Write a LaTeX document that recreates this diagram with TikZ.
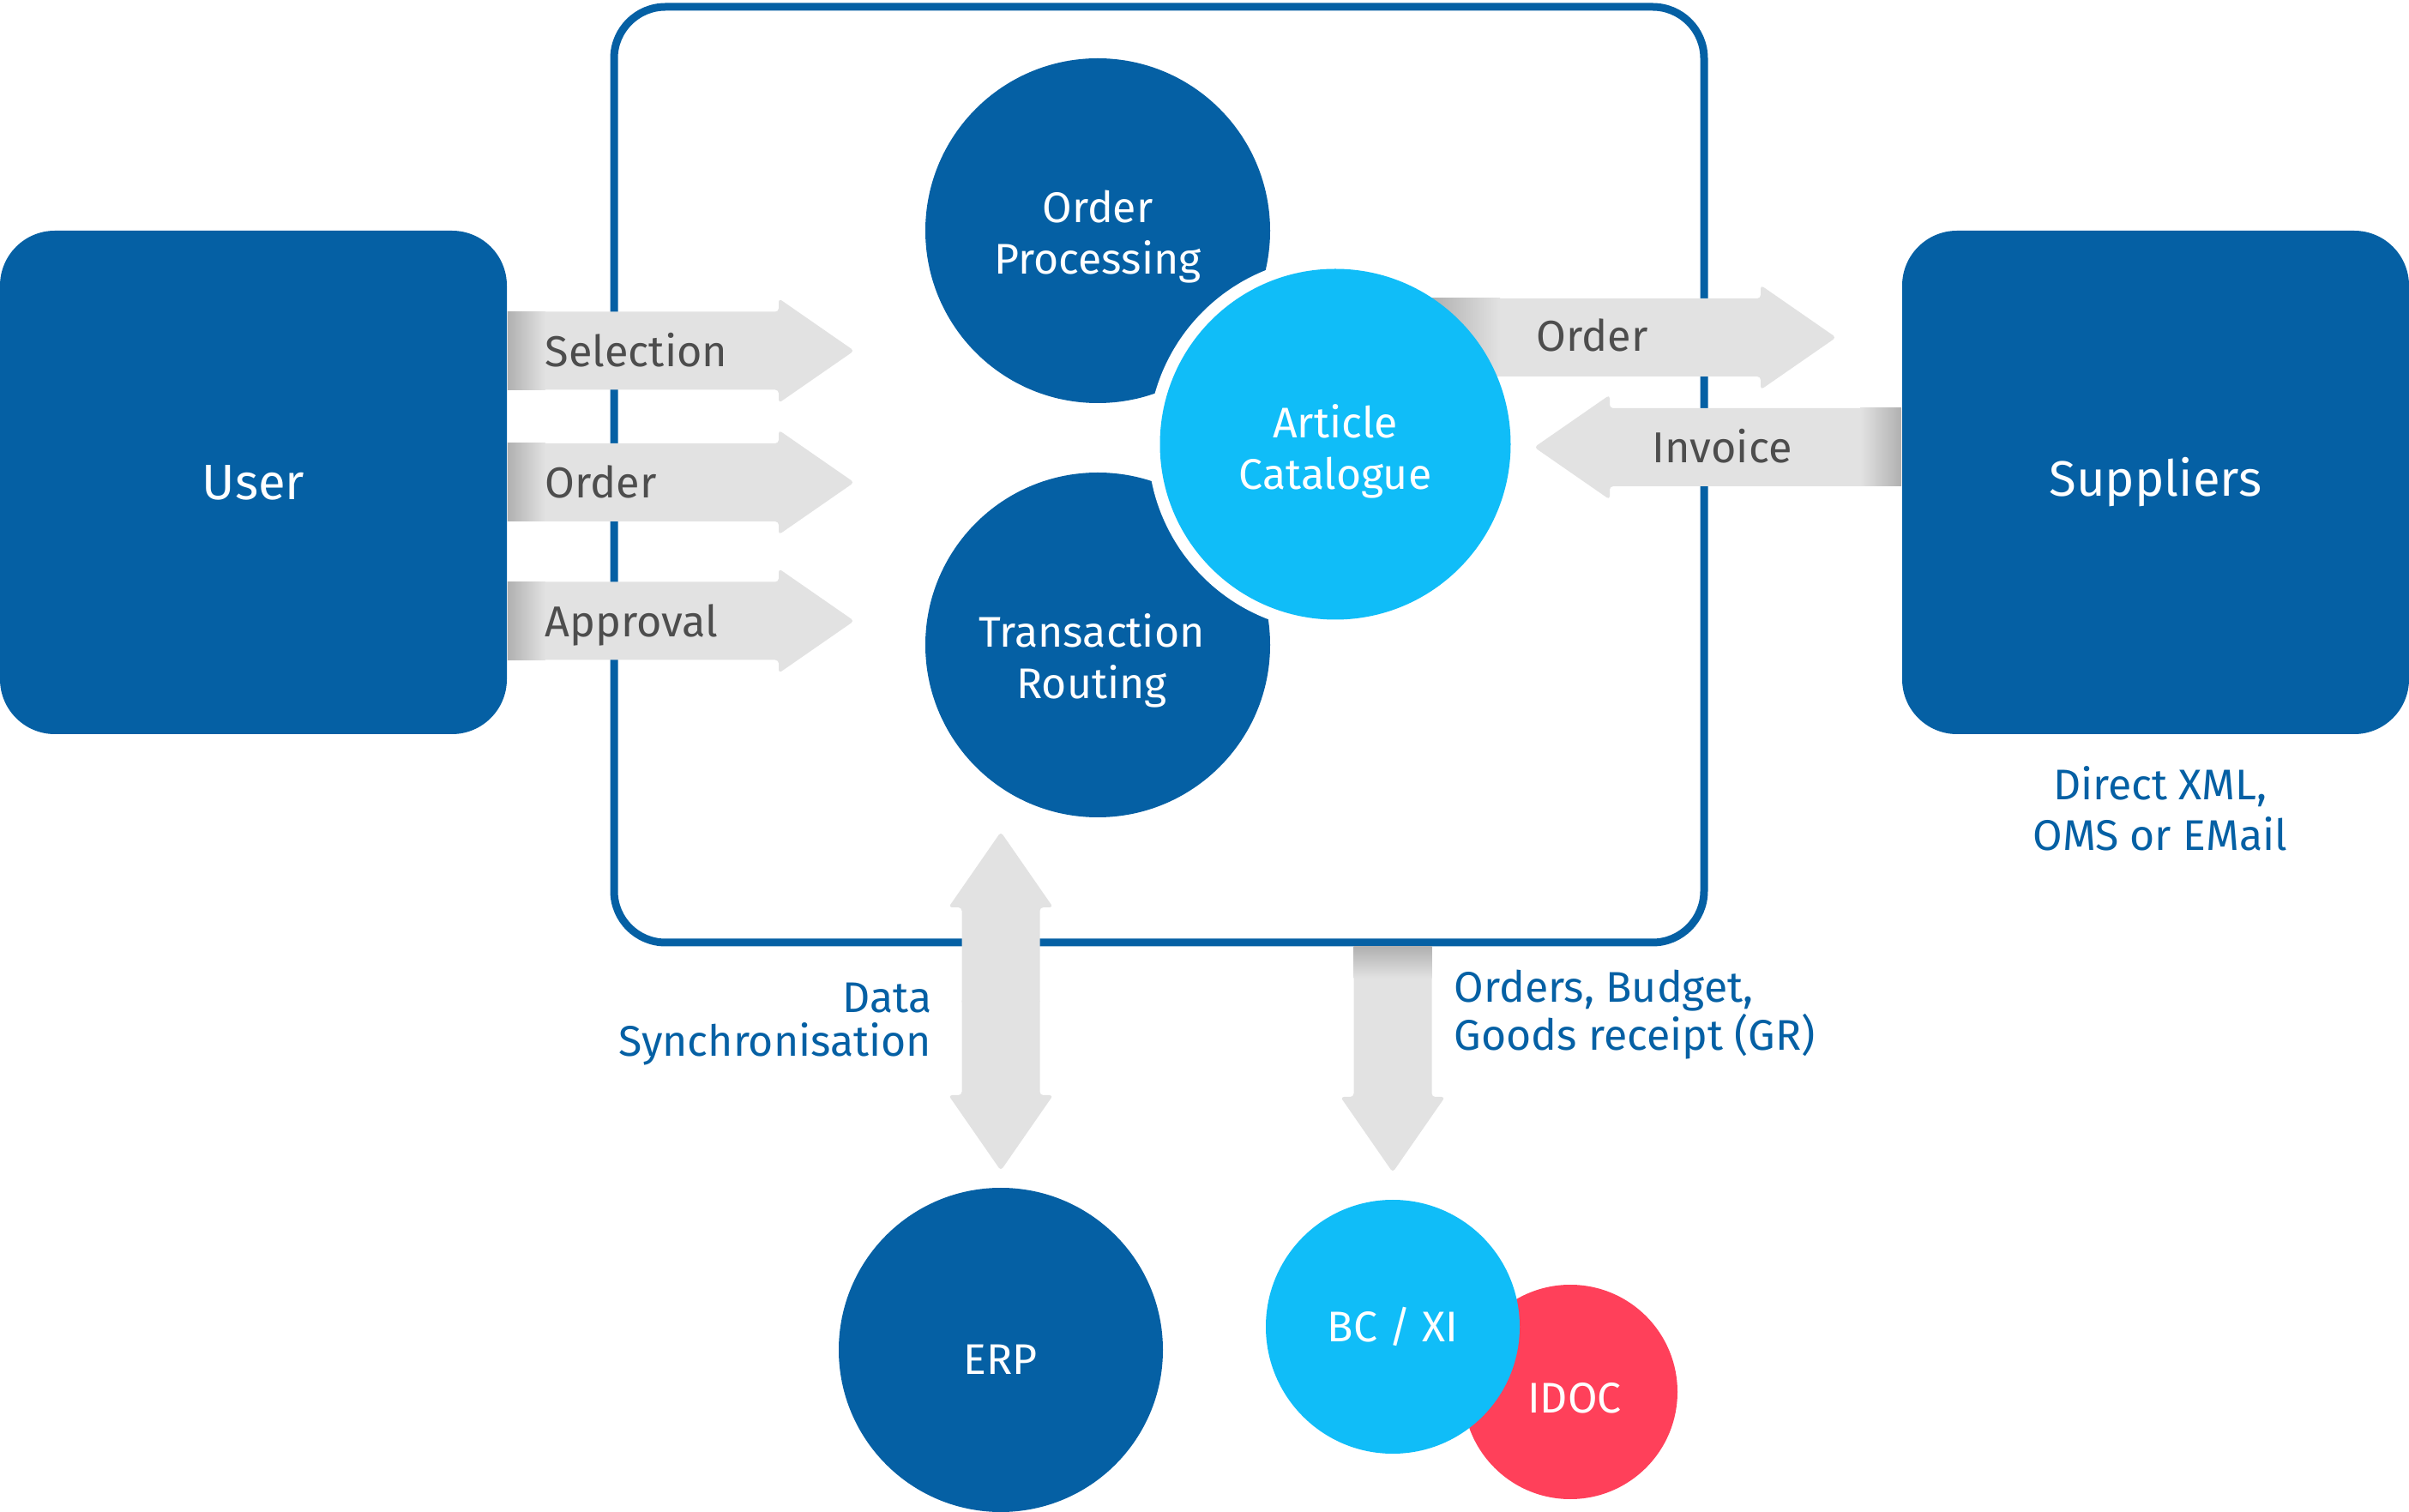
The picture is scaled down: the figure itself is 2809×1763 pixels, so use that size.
\documentclass[tikz,border=0pt]{standalone}
\usepackage{fontspec}
\setmainfont{Fira Sans}
\usetikzlibrary{calc}

\newcommand\flowarrow[2]{% tail, tip
  \coordinate (fabase) at ($(#2)!22pt!(#1)$);
  \fill[custcol_e2_e2_e2, rounded corners=1pt] ($(#1)!11.375pt!90:(#2)$) -- ($(fabase)!11.375pt!90:(#2)$) -- ($(fabase)!15.25pt!90:(#2)$) -- (#2) -- ($(fabase)!15.25pt!-90:(#2)$) -- ($(fabase)!11.375pt!-90:(#2)$) -- ($(#1)!11.375pt!-90:(#2)$) -- cycle;
}

\begin{document}
\begin{tikzpicture}[x=0.25pt,y=-0.25pt,
  box/.style={fill=custcol_05_60_a4, rounded corners=16pt, minimum width=147.75pt, minimum height=146.75pt, text=white, font=\fontsize{14.5pt}{17pt}\selectfont},
  ball/.style={circle, inner sep=0pt},
  balltext/.style={inner sep=0pt, text=white, align=center, font=\fontsize{12.5pt}{15pt}\selectfont},
  flowtext/.style={inner sep=0pt, text=custcol_4d_4d_4d, font=\fontsize{12.6pt}{15pt}\selectfont},
  note/.style={inner sep=0pt, text=custcol_05_60_a4, font=\fontsize{12.5pt}{12.75pt}\selectfont}]
\definecolor{custcol_05_60_a4}{RGB}{5, 96, 164}
\definecolor{custcol_10_bd_f8}{RGB}{16, 189, 248}
\definecolor{custcol_ff_40_5a}{RGB}{255, 64, 90}
\definecolor{custcol_e2_e2_e2}{RGB}{226, 226, 226}
\definecolor{custcol_b0_b0_b0}{RGB}{176, 176, 176}
\definecolor{custcol_4d_4d_4d}{RGB}{77, 77, 77}
\useasboundingbox (0,0) rectangle (2809,1763);
\node[draw=custcol_05_60_a4, line width=2.25pt, rounded corners=15pt, minimum width=317.75pt, minimum height=272.75pt] (frame) at (1351.5,553.5) {};
\node[box] (user) at (295.5,562.5) {User};
\node[box] (suppliers) at (2513.5,562.5) {Suppliers};
\coordinate (selTip) at (996,409);
\coordinate (selTail) at (user.east |- selTip);
\coordinate (ordTip) at (996,562.5);
\coordinate (ordTail) at (user.east |- ordTip);
\coordinate (apprTip) at (996,724);
\coordinate (apprTail) at (user.east |- apprTip);
\flowarrow{selTail}{selTip}
\flowarrow{ordTail}{ordTip}
\flowarrow{apprTail}{apprTip}
\shade[left color=custcol_b0_b0_b0, right color=custcol_e2_e2_e2] ($(selTail)+(0,-45.5)$) rectangle ($(selTail)+(44,45.5)$);
\shade[left color=custcol_b0_b0_b0, right color=custcol_e2_e2_e2] ($(ordTail)+(0,-45.5)$) rectangle ($(ordTail)+(44,45.5)$);
\shade[left color=custcol_b0_b0_b0, right color=custcol_e2_e2_e2] ($(apprTail)+(0,-45.5)$) rectangle ($(apprTail)+(44,45.5)$);
\node[flowtext, anchor=base west] (selLabel) at (635,428) {Selection};
\node[flowtext, anchor=base west] (ordLabel) at (635,581) {Order};
\node[flowtext, anchor=base west] (apprLabel) at (635,743) {Approval};
\node[ball, fill=custcol_05_60_a4, minimum size=100.5pt] (processing) at (1280,269) {};
\node[ball, fill=custcol_05_60_a4, minimum size=100.5pt] (routing) at (1280,752) {};
\coordinate (catCenter) at (1557,518);
\fill[white] (catCenter) circle[radius=54.625pt];
\coordinate (outTip) at (2141,393.5);
\coordinate (outTail) at (catCenter |- outTip);
\flowarrow{outTail}{outTip}
\shade[left color=custcol_b0_b0_b0, right color=custcol_e2_e2_e2] ($(outTail)+(112,-45.5)$) rectangle ($(outTail)+(192,45.5)$);
\coordinate (invTip) at (1789,521.5);
\coordinate (invTail) at (suppliers.west |- invTip);
\flowarrow{invTail}{invTip}
\shade[left color=custcol_e2_e2_e2, right color=custcol_b0_b0_b0] ($(invTail)+(-48,-45.5)$) rectangle ($(invTail)+(0,45.5)$);
\node[flowtext, anchor=base west] (outLabel) at (1791,410) {Order};
\node[flowtext, anchor=base west] (invLabel) at (1926,540) {Invoice};
\node[ball, fill=custcol_10_bd_f8, minimum size=102.25pt] (catalogue) at (catCenter) {};
\node[balltext] (processingText) at ($(processing)+(0,7)$) {Order\\Processing};
\node[balltext] (routingText) at ($(routing)+(-7,18)$) {Transaction\\Routing};
\node[balltext] (catalogueText) at ($(catalogue)+(0,8)$) {Article\\Catalogue};
\coordinate (syncTop) at (1167,970);
\coordinate (syncBot) at (1167,1365);
\coordinate (syncMid) at ($(syncTop)!0.5!(syncBot)$);
\coordinate (syncMidUp) at ($(syncMid)+(0,4)$);
\coordinate (syncMidDown) at ($(syncMid)+(0,-4)$);
\flowarrow{syncMidUp}{syncTop}
\flowarrow{syncMidDown}{syncBot}
\coordinate (grTip) at (1624,1367);
\coordinate (grTail) at (frame.south -| grTip);
\flowarrow{grTail}{grTip}
\shade[top color=custcol_b0_b0_b0, bottom color=custcol_e2_e2_e2] ($(grTail)+(-45.5,0)$) rectangle ($(grTail)+(45.5,37)$);
\node[note, align=right, anchor=base east] (syncNote) at (1087,1232) {Data\\Synchronisation};
\node[note, align=left, anchor=base west] (grNote) at (1695,1225) {Orders, Budget,\\Goods receipt (GR)};
\node[note, align=center, anchor=base, font=\fontsize{12.5pt}{14.75pt}\selectfont] (channelNote) at (2519,992) {Direct XML,\\OMS or EMail};
\node[ball, fill=custcol_05_60_a4, minimum size=94.5pt] (erp) at (1167,1574) {};
\node[ball, fill=custcol_ff_40_5a, minimum size=62.5pt] (idoc) at (1831,1623) {};
\node[ball, fill=custcol_10_bd_f8, minimum size=74pt] (bcxi) at (1624,1547) {};
\node[balltext] (erpText) at ($(erp)+(0,11)$) {ERP};
\node[balltext] (idocText) at ($(idoc)+(5,7)$) {IDOC};
\node[balltext] (bcxiText) at (bcxi) {BC / XI};
\end{tikzpicture}
\end{document}
